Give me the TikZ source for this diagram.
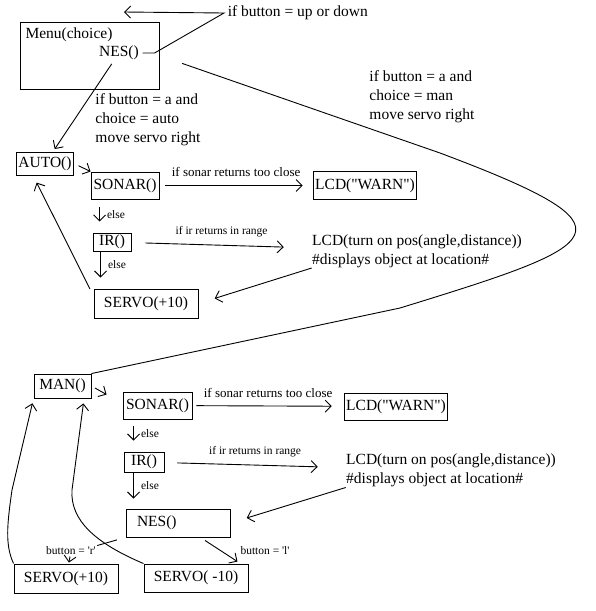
\documentclass[tikz,border=0pt]{standalone}
\usepackage{fontspec}
\setmainfont{Liberation Serif}
\usetikzlibrary{positioning}
\usetikzlibrary{arrows.meta}

\tikzset{
  box/.style={draw, inner sep=2pt},
  note/.style={align=left, inner sep=0pt},
  cond/.style={font=\fontsize{11.5}{13}\selectfont, inner sep=1pt},
  cond2/.style={font=\fontsize{13}{15}\selectfont, inner sep=1pt},
}

\begin{document}
\begin{tikzpicture}[x=1pt, y=1pt, on grid, node distance=60pt, line width=0.9pt,
    >={Straight Barb[length=6pt,width=12pt]},
    every node/.style={font=\fontsize{15.5}{19}\selectfont}]

        \useasboundingbox (0,0) rectangle (596,-611);

        % menu
        \node[box, minimum width=139pt, minimum height=67pt] (menu) at (89.5,-55.5) {};
        \node (choice) at (69,-35) {Menu(choice)};
        \node (nes0) at (119,-53) {NES()};
        \node[anchor=west] (updown) at (224,-13) {if button = up or down};
        \coordinate (looptip) at (124,-12);

        \node[note] (autolbl) at (148,-120) {if button = a and\\choice = auto\\move servo right};
        \node[note] (manlbl) at (422,-97) {if button = a and\\choice = man\\move servo right};

        % auto branch
        \node[box, minimum width=56pt, minimum height=23pt] (auto) at (45,-163.5) {AUTO()};
        \node[box, minimum width=68pt, minimum height=27pt] (sonar1) [right=80pt of auto, yshift=-22pt] {SONAR()};
        \node[box, minimum width=90pt, minimum height=28pt] (warn1) [right=240pt of sonar1] {LCD(\textquotedbl WARN\textquotedbl)};
        \node[box, minimum width=38pt, minimum height=18pt] (ir1) [below=56.5pt of sonar1, xshift=-13pt] {IR()};
        \node[note] (lcd1) [right=305pt of ir1, yshift=-9pt] {LCD(turn on pos(angle,distance))\\\#displays object at location\#};
        \node[box, minimum width=104pt, minimum height=29pt] (servo1) [below=61.5pt of ir1, xshift=34pt] {SERVO(+10)};

        % man branch
        \node[box, minimum width=57pt, minimum height=24pt] (man) at (62.5,-386) {MAN()};
        \node[box, minimum width=69pt, minimum height=27pt] (sonar2) [right=95pt of man, yshift=-19.5pt] {SONAR()};
        \node[box, minimum width=88pt, minimum height=27pt] (warn2) [right=238.5pt of sonar2, yshift=-1pt] {LCD(\textquotedbl WARN\textquotedbl)};
        \node[box, minimum width=40pt, minimum height=20pt] (ir2) [below=56.5pt of sonar2, xshift=-13.5pt] {IR()};
        \node[note] (lcd2) [right=307pt of ir2, yshift=-8.5pt] {LCD(turn on pos(angle,distance))\\\#displays object at location\#};
        \node[box, minimum width=104pt, minimum height=28pt, text width=82pt, align=left] (nes) [below=61pt of ir2, xshift=34pt] {NES()};
        \node[box, minimum width=104pt, minimum height=29pt] (servoP) [below left=55.5pt and 112pt of nes] {SERVO(+10)};
        \node[box, minimum width=104pt, minimum height=28pt] (servoM) [below right=55pt and 18pt of nes] {SERVO( -10)};

        \node[cond] (rbtn) [above=27.5pt of servoP, xshift=5pt] {button = {\textquotesingle}r{\textquotesingle}};
        \node[cond] (lbtn) [above=27pt of servoM, xshift=69pt] {button = {\textquotesingle}l{\textquotesingle}};

        \draw[->] (nes0.east) -- ++(12,0) -- (updown.west) -- (looptip);

        \path [->]
          (nes0) edge [shorten >=3pt] (auto)
          (auto.east) edge [shorten <=5pt] (sonar1.north west)
          (sonar1) edge [shorten <=6pt, shorten >=10pt] node[cond2, above=7pt] {if sonar returns too close} (warn1)
          ([xshift=9pt, yshift=-8pt]sonar1.south west) edge node[cond, right=6pt] {else} ([xshift=7pt, yshift=11pt]ir1.north west)
          (ir1) edge [shorten <=14pt, shorten >=28pt] node[cond, above=7pt] {if ir returns in range} (lcd1)
          ([xshift=8pt]ir1.south west) edge node[cond, right=6pt] {else} ([xshift=7pt, yshift=11pt]servo1.north west)
          (lcd1.south west) edge [shorten >=17pt] (servo1.east)
          (servo1.172) edge [shorten <=8pt, shorten >=8pt] (auto.225)

          (man.east) edge [shorten <=4pt] ([xshift=-16pt, yshift=-3pt]sonar2.north west)
          (sonar2) edge [shorten <=4pt, shorten >=12pt] node[cond2, above=7pt] {if sonar returns too close} (warn2)
          ([xshift=11pt, yshift=-7pt]sonar2.south west) edge node[cond, right=6pt] {else} ([xshift=10pt, yshift=11pt]ir2.north west)
          (ir2) edge [shorten <=13pt, shorten >=28pt] node[cond, above=7pt] {if ir returns in range} (lcd2)
          ([xshift=10pt]ir2.south west) edge node[cond, right=6pt] {else} ([xshift=8pt, yshift=10pt]nes.north west)
          (lcd2.south west) edge [shorten >=17pt] (nes.east)
          (nes.south west) edge [-, shorten <=9pt] (rbtn.north east)
          (rbtn) edge [shorten >=1pt] (servoP)
          ([xshift=27pt, yshift=-3pt]nes.south) edge ([xshift=-11pt, yshift=2pt]servoM.north east);

        % menu to man
        \draw [shorten <=24pt] (menu.east) -- (440,-153) .. controls (644,-229.5) and (608,-244) .. (400,-308) -- (man.north east);

        % back to man
        \draw[->, shorten >=5pt] (servoM.north west) .. controls (95,-543) and (70,-520) .. (72,-490) -- (man.-30);
        \draw[->, shorten >=5pt] (servoP.north west) .. controls (5,-545) and (7,-525) .. (12,-490) -- (man.south west);

      \end{tikzpicture}
\end{document}
